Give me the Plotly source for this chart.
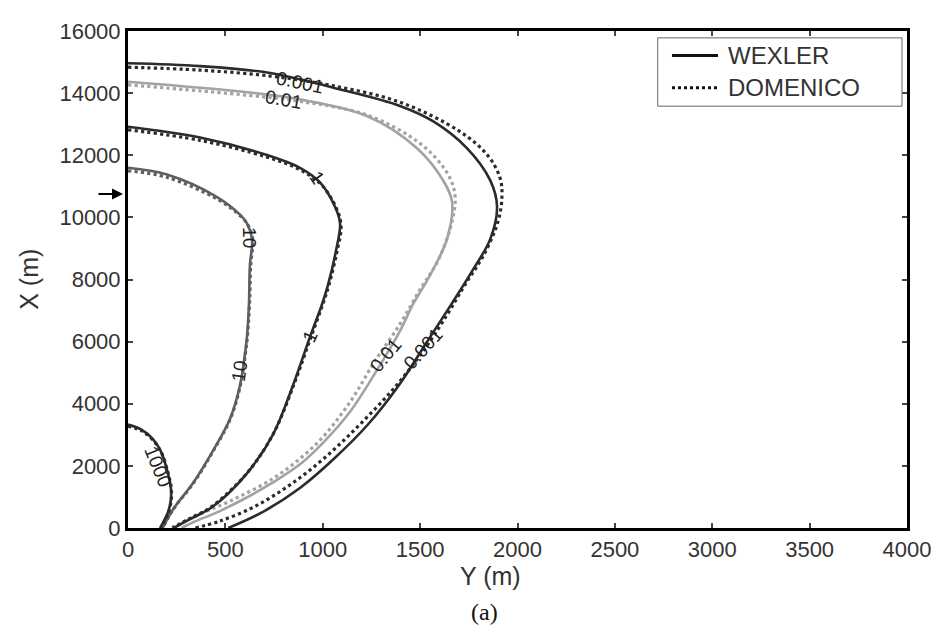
import plotly.graph_objects as go

# ---- data: contour lines (Y in m, X in m) ----
w0001_y = [0, 370, 730, 1050, 1400, 1570, 1740, 1860, 1895, 1860, 1770, 1660, 1530, 1390, 1232, 1063, 883, 688, 515]
w0001_x = [14960, 14870, 14650, 14180, 13580, 13080, 12230, 11190, 10340, 9300, 8300, 7200, 5940, 4590, 3332, 2263, 1289, 503, 0]
d0001_y = [0, 370, 730, 1050, 1400, 1705, 1845, 1910, 1920, 1900, 1825, 1730, 1640, 1525, 1370, 1190, 1010, 830, 650, 470, 345]
d0001_x = [14835, 14740, 14550, 14240, 13700, 12760, 12010, 11280, 10655, 9870, 8770, 7830, 6880, 5780, 4530, 3330, 2260, 1380, 690, 220, 0]

w001_y = [0, 626, 883, 1227, 1484, 1618, 1664, 1638, 1551, 1463, 1397, 1279, 1140, 1010, 883, 740, 600, 457, 340, 275]
w001_x = [14364, 14018, 13798, 13263, 12226, 11189, 10498, 9303, 8140, 7197, 6349, 5092, 3740, 2800, 2050, 1450, 950, 503, 200, 0]
d001_y = [0, 626, 883, 1227, 1499, 1638, 1679, 1664, 1592, 1499, 1397, 1268, 1140, 981, 770, 539, 334, 220]
d001_x = [14269, 13923, 13735, 13295, 12383, 11440, 10718, 9869, 8612, 7669, 6569, 5375, 4055, 2797, 1697, 911, 346, 0]

w1_y = [0, 370, 714, 883, 986, 1063, 1089, 1068, 1027, 996, 935, 847, 745, 611, 436, 318, 235]
w1_x = [12918, 12572, 12006, 11597, 11126, 10340, 9806, 8926, 7826, 7197, 6160, 4589, 3017, 1760, 691, 283, 0]
d1_y = [0, 370, 714, 883, 996, 1073, 1094, 1073, 1032, 1000, 940, 850, 745, 610, 430, 310, 230]
d1_x = [12820, 12480, 11940, 11535, 11030, 10250, 9710, 8900, 7830, 7200, 6160, 4590, 3020, 1760, 690, 283, 0]

w10_y = [0, 200, 457, 575, 611, 637, 626, 621, 611, 601, 575, 524, 436, 334, 231, 178]
w10_x = [11597, 11378, 10655, 10089, 9806, 9303, 8455, 7197, 6160, 5626, 4589, 3520, 2483, 1446, 597, 0]
d10_y = [0, 200, 457, 580, 616, 640, 630, 624, 613, 603, 577, 526, 438, 336, 232, 178]
d10_x = [11500, 11290, 10590, 10030, 9750, 9300, 8455, 7200, 6160, 5626, 4589, 3520, 2483, 1446, 597, 0]

w1000_y = [0, 67, 128, 170, 205, 220, 220, 205, 170, 165]
w1000_x = [3330, 3175, 2860, 2450, 1760, 1290, 910, 500, 60, 0]
d1000_y = [0, 70, 130, 172, 207, 222, 222, 207, 168]
d1000_x = [3280, 3130, 2820, 2420, 1740, 1280, 900, 490, 0]

# contour labels: text, Y, X, angle
label_text = ["0.001", "0.01", "1", "10", "10", "1", "0.01", "0.001", "1000"]
label_y = [883, 796, 971, 626, 575, 935, 1320, 1515, 154]
label_x = [14330, 13798, 11283, 9335, 5060, 6160, 5563, 5783, 1980]
label_angle = [12, 10, 55, 90, -82, -65, -50, -48, 68]

series_names = ["WEXLER", "DOMENICO"]
x_ticks = [0, 500, 1000, 1500, 2000, 2500, 3000, 3500, 4000]
y_ticks = [0, 2000, 4000, 6000, 8000, 10000, 12000, 14000, 16000]
arrow_x = 10750

DARK = "#2b2b2b"
MID = "#5f5f5f"
LIGHT = "#a3a3a3"
FONT = "Arial"

fig = go.Figure()

series = [
    (w0001_y, w0001_x, DARK, "solid"),
    (d0001_y, d0001_x, DARK, "dot"),
    (w001_y, w001_x, LIGHT, "solid"),
    (d001_y, d001_x, LIGHT, "dot"),
    (w1_y, w1_x, DARK, "solid"),
    (d1_y, d1_x, DARK, "dot"),
    (w10_y, w10_x, MID, "solid"),
    (d10_y, d10_x, MID, "dot"),
    (w1000_y, w1000_x, DARK, "solid"),
    (d1000_y, d1000_x, DARK, "dot"),
]
for ys, xs, col, dash in series:
    fig.add_trace(go.Scatter(
        x=ys, y=xs, mode="lines", showlegend=False,
        line=dict(color=col, width=2.6 if dash == "solid" else 3.2, dash=dash,
                  shape="spline", smoothing=1.0),
        hoverinfo="skip"))

annotations = []
for t, yy, xx, ang in zip(label_text, label_y, label_x, label_angle):
    annotations.append(dict(x=yy, y=xx, xref="x", yref="y", text=t, showarrow=False,
                            textangle=ang, font=dict(family=FONT, size=19, color="#222")))

# axis titles and caption
annotations.append(dict(x=0.465, y=-0.096, xref="paper", yref="paper", text="Y (m)", showarrow=False,
                        yanchor="middle", font=dict(family=FONT, size=25, color="#333")))
annotations.append(dict(x=-0.128, y=0.5, xref="paper", yref="paper", text="X (m)", showarrow=False,
                        textangle=-90, xanchor="center", yanchor="middle",
                        font=dict(family=FONT, size=25, color="#333")))
annotations.append(dict(x=0.457, y=-0.17, xref="paper", yref="paper", text="(a)", showarrow=False,
                        yanchor="middle", font=dict(family="Liberation Serif", size=24, color="#111")))
# arrow at left
annotations.append(dict(x=-0.0064, y=arrow_x, xref="paper", yref="y", text="", showarrow=True,
                        ax=-26, ay=0, arrowhead=2, arrowsize=1.1, arrowwidth=2, arrowcolor="#000"))

# manual legend (box, samples, texts)
shapes = [
    dict(type="rect", xref="paper", yref="paper", x0=0.680, x1=0.9936, y0=0.8487, y1=0.9862,
         line=dict(color="#666", width=1), fillcolor="white", layer="above"),
    dict(type="line", xref="paper", yref="paper", x0=0.6983, x1=0.7574, y0=0.9509, y1=0.9509,
         line=dict(color="#111", width=3, dash="solid"), layer="above"),
    dict(type="line", xref="paper", yref="paper", x0=0.6983, x1=0.7574, y0=0.886, y1=0.886,
         line=dict(color="#111", width=3, dash="dot"), layer="above"),
]
for name, yy in zip(series_names, [0.9509, 0.886]):
    annotations.append(dict(x=0.7677, y=yy, xref="paper", yref="paper", text=name, showarrow=False,
                            xanchor="left", yanchor="middle",
                            font=dict(family=FONT, size=24, color="#333")))

fig.update_layout(
    width=935, height=626,
    margin=dict(l=120, r=36, t=11, b=106),
    paper_bgcolor="white", plot_bgcolor="white",
    showlegend=False,
    annotations=annotations,
    shapes=shapes,
)
fig.update_xaxes(range=[0, 4000], tickvals=x_ticks, ticks="inside", ticklen=5, tickwidth=2,
                 showline=True, linecolor="#000", linewidth=3, mirror="ticks",
                 showgrid=False, zeroline=False, tickformat="d", ticklabeloverflow="allow",
                 tickfont=dict(family=FONT, size=22, color="#333"))
fig.update_yaxes(range=[0, 16000], tickvals=y_ticks, ticks="inside", ticklen=5, tickwidth=2,
                 showline=True, linecolor="#000", linewidth=3, mirror="ticks",
                 showgrid=False, zeroline=False, tickformat="d", ticklabeloverflow="allow",
                 tickfont=dict(family=FONT, size=22, color="#333"))

fig.write_html("out.html")
